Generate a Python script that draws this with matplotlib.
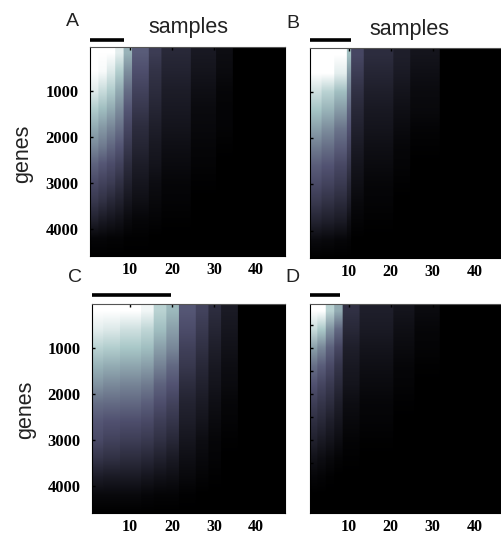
from matplotlib import pyplot
import numpy

W, H = 501, 535

tick_labels_x = [10, 20, 30, 40]
tick_labels_y = [1000, 2000, 3000, 4000]
gene_rows = [200, 600, 1000, 1400, 1800, 2200, 2600, 3000, 3400, 3800, 4200, 4600]
n_samples = 48

# number of samples in each block, then block brightness down the gene rows
widths_a = [2, 2, 2, 2, 2, 4, 3, 7, 6, 4, 14]
values_a = [
    [1.00, 1.00, 0.92, 0.78, 0.66, 0.55, 0.42, 0.33, 0.25, 0.15, 0.03, 0.00],
    [1.00, 0.98, 0.85, 0.72, 0.60, 0.50, 0.38, 0.30, 0.22, 0.12, 0.03, 0.00],
    [1.00, 0.90, 0.78, 0.66, 0.54, 0.44, 0.34, 0.27, 0.18, 0.10, 0.02, 0.00],
    [0.92, 0.78, 0.66, 0.56, 0.47, 0.38, 0.30, 0.22, 0.15, 0.08, 0.02, 0.00],
    [0.68, 0.56, 0.46, 0.38, 0.32, 0.26, 0.20, 0.15, 0.10, 0.05, 0.01, 0.00],
    [0.40, 0.35, 0.30, 0.25, 0.20, 0.17, 0.13, 0.10, 0.07, 0.03, 0.01, 0.00],
    [0.27, 0.23, 0.20, 0.17, 0.14, 0.11, 0.09, 0.06, 0.04, 0.02, 0.00, 0.00],
    [0.18, 0.16, 0.13, 0.11, 0.09, 0.07, 0.05, 0.03, 0.02, 0.01, 0.00, 0.00],
    [0.11, 0.09, 0.07, 0.05, 0.04, 0.03, 0.02, 0.01, 0.00, 0.00, 0.00, 0.00],
    [0.06, 0.05, 0.03, 0.02, 0.02, 0.01, 0.00, 0.00, 0.00, 0.00, 0.00, 0.00],
    [0.00, 0.00, 0.00, 0.00, 0.00, 0.00, 0.00, 0.00, 0.00, 0.00, 0.00, 0.00],
]

widths_b = [3, 3, 3, 1, 3, 7, 4, 7, 17]
values_b = [
    [1.00, 1.00, 0.86, 0.74, 0.62, 0.50, 0.40, 0.33, 0.25, 0.16, 0.05, 0.00],
    [1.00, 1.00, 0.80, 0.68, 0.56, 0.46, 0.37, 0.30, 0.22, 0.14, 0.04, 0.00],
    [1.00, 0.92, 0.72, 0.60, 0.48, 0.40, 0.32, 0.26, 0.19, 0.12, 0.03, 0.00],
    [0.72, 0.60, 0.50, 0.42, 0.36, 0.30, 0.24, 0.18, 0.13, 0.07, 0.02, 0.00],
    [0.32, 0.27, 0.22, 0.18, 0.15, 0.12, 0.09, 0.07, 0.04, 0.02, 0.00, 0.00],
    [0.20, 0.17, 0.14, 0.11, 0.09, 0.07, 0.05, 0.03, 0.02, 0.01, 0.00, 0.00],
    [0.14, 0.12, 0.09, 0.07, 0.05, 0.03, 0.02, 0.01, 0.00, 0.00, 0.00, 0.00],
    [0.09, 0.07, 0.05, 0.04, 0.02, 0.01, 0.00, 0.00, 0.00, 0.00, 0.00, 0.00],
    [0.00, 0.00, 0.00, 0.00, 0.00, 0.00, 0.00, 0.00, 0.00, 0.00, 0.00, 0.00],
]

widths_c = [3, 4, 5, 3, 3, 3, 4, 3, 3, 4, 13]
values_c = [
    [1.00, 0.92, 0.80, 0.68, 0.58, 0.46, 0.38, 0.33, 0.24, 0.13, 0.04, 0.00],
    [1.00, 0.90, 0.78, 0.66, 0.55, 0.45, 0.36, 0.30, 0.22, 0.12, 0.04, 0.00],
    [1.00, 0.86, 0.75, 0.64, 0.53, 0.44, 0.35, 0.28, 0.20, 0.12, 0.04, 0.00],
    [0.96, 0.82, 0.72, 0.61, 0.50, 0.41, 0.33, 0.26, 0.18, 0.10, 0.03, 0.00],
    [0.80, 0.72, 0.62, 0.52, 0.42, 0.35, 0.28, 0.22, 0.15, 0.08, 0.02, 0.00],
    [0.70, 0.62, 0.54, 0.44, 0.37, 0.30, 0.24, 0.18, 0.12, 0.07, 0.02, 0.00],
    [0.38, 0.34, 0.29, 0.25, 0.20, 0.16, 0.13, 0.10, 0.07, 0.04, 0.01, 0.00],
    [0.30, 0.26, 0.22, 0.18, 0.15, 0.12, 0.09, 0.06, 0.04, 0.02, 0.00, 0.00],
    [0.20, 0.17, 0.14, 0.11, 0.09, 0.07, 0.05, 0.03, 0.02, 0.01, 0.00, 0.00],
    [0.12, 0.10, 0.08, 0.06, 0.05, 0.03, 0.02, 0.01, 0.00, 0.00, 0.00, 0.00],
    [0.00, 0.00, 0.00, 0.00, 0.00, 0.00, 0.00, 0.00, 0.00, 0.00, 0.00, 0.00],
]

widths_d = [2, 2, 2, 2, 4, 8, 5, 6, 17]
values_d = [
    [1.00, 0.84, 0.62, 0.46, 0.36, 0.28, 0.21, 0.15, 0.08, 0.03, 0.00, 0.00],
    [1.00, 0.76, 0.54, 0.40, 0.31, 0.24, 0.18, 0.12, 0.06, 0.02, 0.00, 0.00],
    [0.80, 0.58, 0.42, 0.33, 0.26, 0.20, 0.14, 0.09, 0.04, 0.01, 0.00, 0.00],
    [0.66, 0.44, 0.32, 0.24, 0.19, 0.14, 0.10, 0.06, 0.02, 0.00, 0.00, 0.00],
    [0.22, 0.18, 0.14, 0.11, 0.09, 0.06, 0.04, 0.02, 0.01, 0.00, 0.00, 0.00],
    [0.14, 0.12, 0.09, 0.07, 0.05, 0.03, 0.02, 0.01, 0.00, 0.00, 0.00, 0.00],
    [0.09, 0.07, 0.05, 0.03, 0.02, 0.01, 0.00, 0.00, 0.00, 0.00, 0.00, 0.00],
    [0.05, 0.03, 0.02, 0.01, 0.00, 0.00, 0.00, 0.00, 0.00, 0.00, 0.00, 0.00],
    [0.00, 0.00, 0.00, 0.00, 0.00, 0.00, 0.00, 0.00, 0.00, 0.00, 0.00, 0.00],
]

bar_ends = {"A": 8.5, "B": 10.5, "C": 19.8, "D": 8.0}


def panel(left, top, right, bottom, x0, widths, values, name, bar_y, yticks, ylabels):
    ax = fig.add_axes([left / W, 1 - bottom / H, (right - left) / W, (bottom - top) / H])
    # repeat each block a few times so bilinear smoothing stays vertical only
    grid = numpy.repeat(numpy.array(values).T, numpy.array(widths) * 4, axis=1)
    ax.imshow(grid, cmap="bone", vmin=0, vmax=1, aspect="auto", interpolation="bilinear",
              extent=(0.5, n_samples + 0.5, 4800, 0))
    ax.set_xlim(x0, x0 + (right - left) / 4.2)
    ax.set_ylim(4590, 50)
    ax.set_xticks(tick_labels_x)
    ax.set_yticks(yticks)
    if ylabels:
        ax.set_yticklabels(tick_labels_y, family="Liberation Serif", weight="bold", fontsize=12)
    else:
        ax.set_yticklabels([])
    ax.set_xticklabels(tick_labels_x, family="Liberation Serif", weight="bold", fontsize=11.5)
    ax.tick_params(axis="y", direction="in", length=2, width=1, pad=8, color="black")
    ax.tick_params(axis="x", direction="in", length=2, width=1, pad=4, color="black",
                   top=True, bottom=False, labelbottom=True)
    for s in ax.spines.values():
        s.set_linewidth(0.8)
    ax.spines["top"].set_color("#555555")
    # black bar above the panel
    ax.plot([x0, bar_ends[name]], [bar_y, bar_y], color="black", linewidth=2.6,
            solid_capstyle="butt", clip_on=False, transform=ax.get_xaxis_transform())
    return ax


fig = pyplot.figure(figsize=(W / 100, H / 100), dpi=100)

panel(89.5, 47, 285, 256, 0.36, widths_a, values_a, "A", 1.033, tick_labels_y, True)
panel(310, 48, 507, 258, 0.76, widths_b, values_b, "B", 1.038, tick_labels_y, False)
panel(91.5, 304, 285, 513, 0.85, widths_c, values_c, "C", 1.043, tick_labels_y, True)
panel(310, 304, 507, 513, 0.76, widths_d, values_d, "D", 1.043,
      [500, 1000, 1500, 2000, 2500, 3000, 3500], False)


def txt(x, y, s, **kw):
    fig.text(x / W, 1 - y / H, s, family="Liberation Sans", color="#222222",
             ha="center", va="center", **kw)


txt(72, 21, "A", fontsize=14)
txt(293, 23, "B", fontsize=14)
txt(75, 278, "C", fontsize=14)
txt(292, 278, "D", fontsize=14)
txt(188, 28, "samples", fontsize=15.5)
txt(409, 29, "samples", fontsize=15.5)
txt(23, 154, "genes", fontsize=15.5, rotation=90)
txt(26, 410, "genes", fontsize=15.5, rotation=90)

pyplot.savefig("out.png", dpi=100)
